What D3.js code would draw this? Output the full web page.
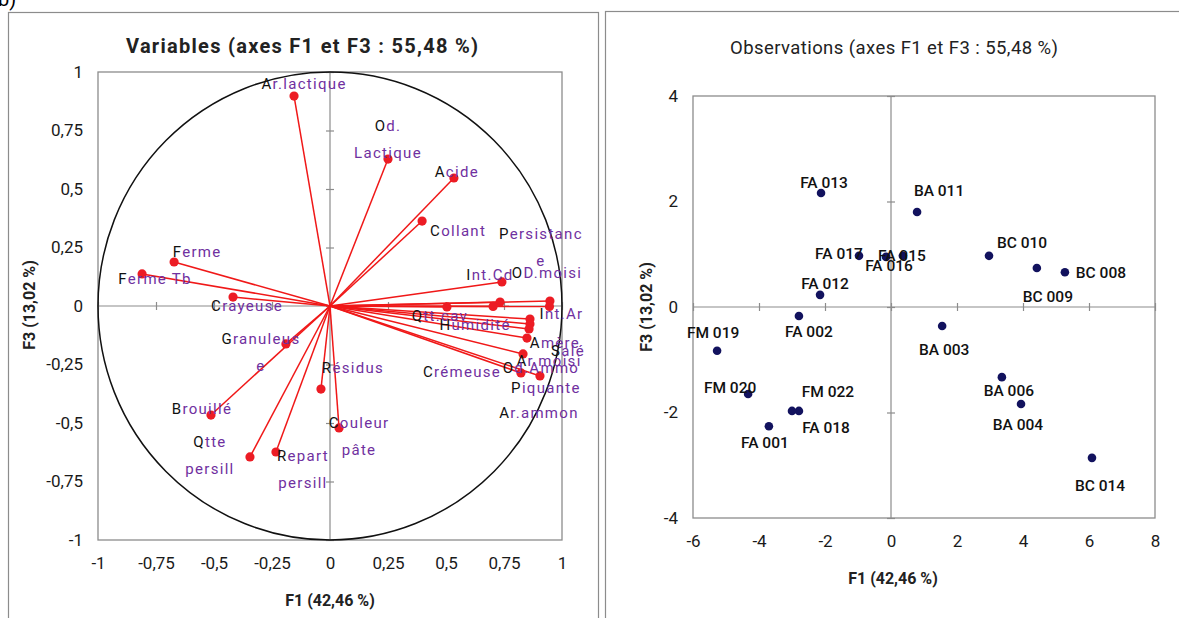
<!DOCTYPE html>
<html>
<head>
<meta charset="utf-8">
<script src="https://cdn.jsdelivr.net/npm/d3@7"></script>
<style>
  body { margin: 0; background: #fff; }
  svg { display: block; }
  text { font-family: Roboto, "Open Sans", sans-serif; }
</style>
</head>
<body>
<div id="chart"></div>
<script>
// Variables (correlation circle, F1 x F3)
let var_names = ['Ar.lactique', 'Od.\nLactique', 'Acide', 'Collant', 'Int.Cd', 'OD.moisi', 'Humidité',
    'Persistanc\ne', 'Int.Ar', 'Qtt.cav', 'Amère', 'Salé', 'Ar.moisi', 'Od.Ammo', 'Crémeuse',
    'Piquante', 'Ar.ammon', 'Ferme', 'Ferme Tb', 'Crayeuse', 'Granuleus\ne', 'Brouillé',
    'Qtte\npersill', 'Repart\npersill', 'Résidus', 'Couleur\npâte'];
let var_f1 = [-0.155, 0.25, 0.534, 0.397, 0.741, 0.733, 0.703,
    0.948, 0.946, 0.504, 0.862, 0.862, 0.858, 0.849, 0.832,
    0.823, 0.905, -0.672, -0.81, -0.418, -0.19, -0.513,
    -0.345, -0.233, -0.039, 0.039];
let var_f3 = [0.897, 0.628, 0.547, 0.363, 0.103, 0.017, -0.002,
    0.021, -0.002, -0.004, -0.056, -0.077, -0.098, -0.137, -0.205,
    -0.286, -0.299, 0.188, 0.137, 0.038, -0.162, -0.466,
    -0.645, -0.624, -0.355, -0.521];

// Observations (F1 x F3)
let obs_names = ['FA 013', 'BA 011', 'FA 017', 'FA 016', 'FA 015', 'FA 012', 'FA 002', 'BA 003',
    'BC 010', 'BC 009', 'BC 008', 'BA 006', 'BA 004', 'BC 014', 'FM 020', 'FA 001',
    'FM 022', 'FA 018', 'FM 019'];
let obs_f1 = [-2.12, 0.79, -0.97, -0.15, 0.36, -2.15, -2.79, 1.55,
    2.97, 4.42, 5.27, 3.36, 3.94, 6.09, -4.33, -3.70,
    -2.79, -3.0, -5.27];
let obs_f3 = [2.16, 1.80, 0.97, 0.95, 0.97, 0.23, -0.17, -0.36,
    0.97, 0.74, 0.66, -1.33, -1.84, -2.86, -1.65, -2.26,
    -1.97, -1.97, -0.83];

// Tick values
let var_ticks = [-1, -0.75, -0.5, -0.25, 0, 0.25, 0.5, 0.75, 1];
let obs_x_ticks = [-6, -4, -2, 0, 2, 4, 6, 8];
let obs_y_ticks = [-4, -2, 0, 2, 4];

// label nudges (pixels from the point to the label centre)
let var_label_nudge = [[10, -12], [0, -33], [3, -6], [36, 10], [-12, -7], [47, -29], [-18, 19],
    [-9, -67], [12, 8], [-7, 9], [25, 24], [38, 27], [20, 32], [14, 30], [-61, 18],
    [25, 15], [-1, 37], [23, -10], [13, 5], [14, 9], [-25, -5], [-9, -6],
    [-40, -15], [27, 4], [32, -21], [20, -5]];
let obs_label_nudge = [[3, -10], [22, -21], [-20, -2], [3, 9], [-1, 0], [5, -11], [10, 16], [2, 24],
    [33, -13], [11, 29], [36, 1], [7, 14], [-3, 21], [8, 28], [-18, -6], [-4, 17],
    [29, -19], [34, 17], [-4, -18]];

let width = 1179;
let height = 618;
let grey = '#8c8c8c';
let fmt = function(d) { return String(d).replace('.', ','); };

let svg = d3.select('#chart')
    .append('svg')
    .attr('width', width)
    .attr('height', height);

svg.append('text')
    .attr('x', -2).attr('y', 6)
    .attr('font-family', 'Liberation Serif')
    .attr('font-size', 20)
    .text('b)');

// outer frames
svg.append('rect')
    .attr('x', 8.5).attr('y', 12.5).attr('width', 590).attr('height', 640)
    .attr('fill', 'none').attr('stroke', grey).attr('stroke-width', 1.2);
svg.append('rect')
    .attr('x', 605.5).attr('y', 11.5).attr('width', 580).attr('height', 640)
    .attr('fill', 'none').attr('stroke', grey).attr('stroke-width', 1.2);

function drawFrame(x, y, x_ticks, y_ticks) {
    let g = svg.append('g');
    let x0 = x.range()[0], x1 = x.range()[1];
    let y0 = y.range()[0], y1 = y.range()[1];

    g.append('rect')
        .attr('x', x0).attr('y', y1)
        .attr('width', x1 - x0).attr('height', y0 - y1)
        .attr('fill', 'none').attr('stroke', grey).attr('stroke-width', 1.3);
    g.append('line')
        .attr('x1', x(0)).attr('x2', x(0)).attr('y1', y1).attr('y2', y0)
        .attr('stroke', grey).attr('stroke-width', 1.2);
    g.append('line')
        .attr('x1', x0).attr('x2', x1).attr('y1', y(0)).attr('y2', y(0))
        .attr('stroke', grey).attr('stroke-width', 1.2);

    // cross ticks on the zero lines
    let cx = g.append('g')
        .attr('transform', 'translate(0,' + (y(0) - 4) + ')')
        .call(d3.axisBottom(x).tickValues(x_ticks).tickSize(8).tickFormat(''));
    let cy = g.append('g')
        .attr('transform', 'translate(' + (x(0) + 4) + ',0)')
        .call(d3.axisLeft(y).tickValues(y_ticks).tickSize(8).tickFormat(''));
    [cx, cy].forEach(function(a) {
        a.select('.domain').remove();
        a.selectAll('line').attr('stroke', grey).attr('stroke-width', 1.2);
    });

    // tick labels outside the plot
    let lx = g.append('g')
        .attr('transform', 'translate(0,' + y0 + ')')
        .call(d3.axisBottom(x).tickValues(x_ticks).tickSize(0).tickPadding(17).tickFormat(fmt));
    let ly = g.append('g')
        .attr('transform', 'translate(' + x0 + ',0)')
        .call(d3.axisLeft(y).tickValues(y_ticks).tickSize(0).tickPadding(15).tickFormat(fmt));
    [lx, ly].forEach(function(a) {
        a.select('.domain').remove();
        a.selectAll('text')
            .attr('font-family', 'Roboto')
            .attr('font-size', 17)
            .attr('fill', '#1a1a1a');
    });
    return g;
}

function axisTitles(cx, title_y, ty_x, cy) {
    svg.append('text')
        .attr('x', cx).attr('y', title_y)
        .attr('text-anchor', 'middle')
        .attr('font-size', 16).attr('font-weight', 'bold').attr('fill', '#222')
        .text('F1 (42,46 %)');
    svg.append('text')
        .attr('transform', 'translate(' + ty_x + ',' + cy + ') rotate(-90)')
        .attr('text-anchor', 'middle')
        .attr('font-size', 16).attr('font-weight', 'bold').attr('fill', '#222')
        .text('F3 (13,02 %)');
}

// ---------- Variables ----------
let xL = d3.scaleLinear().domain([-1, 1]).range([98, 562]);
let yL = d3.scaleLinear().domain([-1, 1]).range([540, 72]);

drawFrame(xL, yL, var_ticks, var_ticks);

svg.append('text')
    .attr('x', 302).attr('y', 53)
    .attr('text-anchor', 'middle')
    .attr('font-size', 20).attr('font-weight', 'bold').attr('fill', '#222')
    .attr('textLength', 352).attr('lengthAdjust', 'spacing')
    .text('Variables (axes F1 et F3 : 55,48 %)');
axisTitles(330, 606, 35, 305);

svg.append('ellipse')
    .attr('cx', xL(0)).attr('cy', yL(0))
    .attr('rx', xL(1) - xL(0)).attr('ry', yL(0) - yL(1))
    .attr('fill', 'none').attr('stroke', '#111').attr('stroke-width', 1.5);

let var_idx = d3.range(var_names.length);

svg.selectAll('line.vec')
    .data(var_idx)
    .enter()
    .append('line')
    .attr('class', 'vec')
    .attr('x1', xL(0)).attr('y1', yL(0))
    .attr('x2', function(i) { return xL(var_f1[i]); })
    .attr('y2', function(i) { return yL(var_f3[i]); })
    .attr('stroke', '#f01818').attr('stroke-width', 1.5);

svg.selectAll('circle.var')
    .data(var_idx)
    .enter()
    .append('circle')
    .attr('class', 'var')
    .attr('cx', function(i) { return xL(var_f1[i]); })
    .attr('cy', function(i) { return yL(var_f3[i]); })
    .attr('r', 4.6)
    .attr('fill', '#ec1c24');

svg.selectAll('text.var')
    .data(var_idx)
    .enter()
    .append('text')
    .attr('class', 'var')
    .attr('text-anchor', 'middle')
    .attr('font-family', 'DejaVu Sans')
    .attr('font-size', 15)
    .attr('letter-spacing', 1.3)
    .each(function(i) {
        let t = d3.select(this);
        let px = xL(var_f1[i]) + var_label_nudge[i][0];
        let py = yL(var_f3[i]) + var_label_nudge[i][1] + 5;
        let lines = var_names[i].split('\n');
        t.attr('y', py);
        lines.forEach(function(line, k) {
            if (k === 0) {
                t.append('tspan').attr('x', px).attr('fill', '#111').text(line.charAt(0));
                t.append('tspan').attr('fill', '#7030a0').text(line.slice(1));
            } else {
                t.append('tspan').attr('x', px).attr('dy', 27).attr('fill', '#7030a0').text(line);
            }
        });
    });

// ---------- Observations ----------
let xR = d3.scaleLinear().domain([-6, 8]).range([693, 1155]);
let yR = d3.scaleLinear().domain([-4, 4]).range([518, 96]);

drawFrame(xR, yR, obs_x_ticks, obs_y_ticks);

svg.append('text')
    .attr('x', 894).attr('y', 54)
    .attr('text-anchor', 'middle')
    .attr('font-size', 18.5).attr('fill', '#222')
    .attr('textLength', 328).attr('lengthAdjust', 'spacing')
    .text('Observations (axes F1 et F3 : 55,48 %)');
axisTitles(893, 584, 652, 307);

let obs_idx = d3.range(obs_names.length);

svg.selectAll('circle.obs')
    .data(obs_idx)
    .enter()
    .append('circle')
    .attr('class', 'obs')
    .attr('cx', function(i) { return xR(obs_f1[i]); })
    .attr('cy', function(i) { return yR(obs_f3[i]); })
    .attr('r', 4.3)
    .attr('fill', '#12125e');

svg.selectAll('text.obs')
    .data(obs_idx)
    .enter()
    .append('text')
    .attr('class', 'obs')
    .attr('text-anchor', 'middle')
    .attr('x', function(i) { return xR(obs_f1[i]) + obs_label_nudge[i][0]; })
    .attr('y', function(i) { return yR(obs_f3[i]) + obs_label_nudge[i][1] + 5; })
    .attr('font-size', 15.5)
    .attr('font-weight', 500)
    .attr('fill', '#111')
    .text(function(i) { return obs_names[i]; });
</script>
</body>
</html>
